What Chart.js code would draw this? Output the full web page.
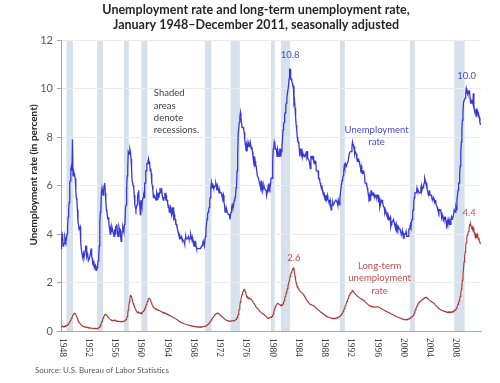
<!DOCTYPE html>
<html>
<head>
<meta charset="utf-8">
<script src="https://cdn.jsdelivr.net/npm/chart.js@4.4.1/dist/chart.umd.min.js"></script>
<style>
html,body{margin:0;padding:0;background:#fff;}
#wrap{width:500px;height:383px;position:relative;}
</style>
</head>
<body>
<div id="wrap"><canvas id="c" width="500" height="383"></canvas></div>
<script>
// ---- data ----
const startYear = 1948;
const chartTitle = ['Unemployment rate and long-term unemployment rate,', 'January 1948\u2013December 2011, seasonally adjusted'];
const yAxisTitle = 'Unemployment rate (in percent)';
const sourceNote = 'Source: U.S. Bureau of Labor Statistics';
const xTickLabels = ['1948','1952','1956','1960','1964','1968','1972','1976','1980','1984','1988','1992','1996','2000','2004','2008'];
const yTickValues = [0, 2, 4, 6, 8, 10, 12];
const recessionStarts = [1948.833, 1953.5, 1957.583, 1960.25, 1969.917, 1973.833, 1980.0, 1981.5, 1990.5, 2001.167, 2007.917];
const recessionEnds   = [1949.833, 1954.417, 1958.333, 1961.167, 1970.917, 1975.25, 1980.583, 1982.917, 1991.25, 2001.917, 2009.5];

// monthly, Jan 1948 - Dec 2011
const unemploymentRate = [
3.4,3.8,4.0,3.9,3.5,3.6,3.6,3.9,3.8,3.7,3.8,4.0,
4.3,4.7,5.0,5.3,6.1,6.2,6.7,6.8,6.6,7.9,6.4,6.6,
6.5,6.4,6.3,5.8,5.5,5.4,5.0,4.5,4.4,4.2,4.2,4.3,
3.7,3.4,3.4,3.1,3.0,3.2,3.1,3.1,3.3,3.5,3.5,3.1,
3.2,3.1,2.9,2.9,3.0,3.0,3.2,3.4,3.1,3.0,2.8,2.7,
2.9,2.6,2.6,2.7,2.5,2.5,2.6,2.7,2.9,3.1,3.5,4.5,
4.9,5.2,5.7,5.9,5.9,5.6,5.8,6.0,6.1,5.7,5.3,5.0,
4.9,4.7,4.6,4.7,4.3,4.2,4.0,4.2,4.1,4.3,4.2,4.2,
4.0,3.9,4.2,4.0,4.3,4.3,4.4,4.1,3.9,3.9,4.3,4.2,
4.2,3.9,3.7,3.9,4.1,4.3,4.2,4.1,4.4,4.5,5.1,5.2,
5.8,6.4,6.7,7.4,7.4,7.3,7.5,7.4,7.1,6.7,6.2,6.2,
6.0,5.9,5.6,5.2,5.1,5.0,5.1,5.2,5.5,5.7,5.8,5.3,
5.2,4.8,5.4,5.2,5.1,5.4,5.5,5.6,5.5,6.1,6.1,6.6,
6.6,6.9,6.9,7.0,7.1,6.9,7.0,6.6,6.7,6.5,6.1,6.0,
5.8,5.5,5.6,5.6,5.5,5.5,5.4,5.7,5.6,5.4,5.7,5.5,
5.7,5.9,5.7,5.7,5.9,5.6,5.6,5.4,5.5,5.5,5.7,5.5,
5.6,5.4,5.4,5.3,5.1,5.2,4.9,5.0,5.1,5.1,4.8,5.0,
4.9,5.1,4.7,4.8,4.6,4.6,4.4,4.4,4.3,4.2,4.1,4.0,
4.0,3.8,3.8,3.8,3.9,3.8,3.8,3.8,3.7,3.7,3.6,3.8,
3.9,3.8,3.8,3.8,3.8,3.9,3.8,3.8,3.8,4.0,3.9,3.8,
3.7,3.8,3.7,3.5,3.5,3.7,3.7,3.5,3.4,3.4,3.4,3.4,
3.4,3.4,3.4,3.4,3.4,3.5,3.5,3.5,3.7,3.7,3.5,3.5,
3.9,4.2,4.4,4.6,4.8,4.9,5.0,5.1,5.4,5.5,5.9,6.1,
5.9,5.9,6.0,5.9,5.9,5.9,6.0,6.1,6.0,5.8,6.0,6.0,
5.8,5.7,5.8,5.7,5.7,5.7,5.6,5.6,5.5,5.6,5.3,5.2,
4.9,5.0,4.9,5.0,4.9,4.9,4.8,4.8,4.8,4.6,4.8,4.9,
5.1,5.2,5.1,5.1,5.1,5.4,5.5,5.5,5.9,6.0,6.6,7.2,
8.1,8.1,8.6,8.8,9.0,8.8,8.6,8.4,8.4,8.4,8.3,8.2,
7.9,7.7,7.6,7.7,7.4,7.6,7.8,7.8,7.6,7.7,7.8,7.8,
7.5,7.6,7.4,7.2,7.0,7.2,6.9,7.0,6.8,6.8,6.8,6.4,
6.4,6.3,6.3,6.1,6.0,5.9,6.2,5.9,6.0,5.8,5.9,6.0,
5.9,5.9,5.8,5.8,5.6,5.7,5.7,6.0,5.9,6.0,5.9,6.0,
6.3,6.3,6.3,6.9,7.5,7.6,7.8,7.7,7.5,7.5,7.5,7.2,
7.5,7.4,7.4,7.2,7.5,7.5,7.2,7.4,7.6,7.9,8.3,8.5,
8.6,8.9,9.0,9.3,9.4,9.6,9.8,9.8,10.1,10.4,10.8,10.8,
10.4,10.4,10.3,10.2,10.1,10.1,9.4,9.5,9.2,8.8,8.5,8.3,
8.0,7.8,7.8,7.7,7.4,7.2,7.5,7.5,7.3,7.4,7.2,7.3,
7.3,7.2,7.2,7.3,7.2,7.4,7.4,7.1,7.1,7.1,7.0,7.0,
6.7,7.2,7.2,7.1,7.2,7.2,7.0,6.9,7.0,7.0,6.9,6.6,
6.6,6.6,6.6,6.3,6.3,6.2,6.1,6.0,5.9,6.0,5.8,5.7,
5.7,5.7,5.7,5.4,5.6,5.4,5.4,5.6,5.4,5.4,5.3,5.3,
5.4,5.2,5.0,5.2,5.2,5.3,5.2,5.2,5.3,5.3,5.4,5.4,
5.4,5.3,5.2,5.4,5.4,5.2,5.5,5.7,5.9,5.9,6.2,6.3,
6.4,6.6,6.8,6.7,6.9,6.9,6.8,6.9,6.9,7.0,7.0,7.3,
7.3,7.4,7.4,7.4,7.6,7.8,7.7,7.6,7.6,7.3,7.4,7.4,
7.3,7.1,7.0,7.1,7.1,7.0,6.9,6.8,6.7,6.8,6.6,6.5,
6.6,6.6,6.5,6.4,6.1,6.1,6.1,6.0,5.9,5.8,5.6,5.5,
5.6,5.4,5.4,5.8,5.6,5.6,5.7,5.7,5.6,5.5,5.6,5.6,
5.6,5.5,5.5,5.6,5.6,5.3,5.5,5.1,5.2,5.2,5.4,5.4,
5.3,5.2,5.2,5.1,4.9,5.0,4.9,4.8,4.9,4.7,4.6,4.7,
4.6,4.6,4.7,4.3,4.4,4.5,4.5,4.5,4.6,4.5,4.4,4.4,
4.3,4.4,4.2,4.3,4.2,4.3,4.3,4.2,4.2,4.1,4.1,4.0,
4.0,4.1,4.0,3.8,4.0,4.0,4.0,4.1,3.9,3.9,3.9,3.9,
4.2,4.2,4.3,4.4,4.3,4.5,4.6,4.9,5.0,5.3,5.5,5.7,
5.7,5.7,5.7,5.9,5.8,5.8,5.8,5.7,5.7,5.7,5.9,6.0,
5.8,5.9,5.9,6.0,6.1,6.3,6.2,6.1,6.1,6.0,5.8,5.7,
5.7,5.6,5.8,5.6,5.6,5.6,5.5,5.4,5.4,5.5,5.4,5.4,
5.3,5.4,5.2,5.2,5.1,5.0,5.0,4.9,5.0,5.0,5.0,4.9,
4.7,4.8,4.7,4.7,4.6,4.6,4.7,4.7,4.5,4.4,4.5,4.4,
4.6,4.5,4.4,4.5,4.4,4.6,4.7,4.6,4.7,4.7,4.7,5.0,
5.0,4.9,5.1,5.0,5.4,5.6,5.8,6.1,6.1,6.5,6.8,7.3,
7.8,8.3,8.7,9.0,9.4,9.5,9.5,9.6,9.8,10.0,9.9,9.9,
9.8,9.8,9.9,9.9,9.6,9.4,9.4,9.5,9.5,9.4,9.8,9.3,
9.1,9.0,9.0,9.1,9.0,9.1,9.0,9.0,9.0,8.8,8.6,8.5
];

const longTermRate = [
0.18,0.17,0.19,0.20,0.18,0.17,0.18,0.20,0.21,0.20,0.22,0.23,
0.25,0.28,0.31,0.34,0.38,0.42,0.47,0.52,0.55,0.60,0.66,0.70,
0.72,0.73,0.71,0.68,0.62,0.58,0.52,0.45,0.40,0.36,0.33,0.30,
0.28,0.25,0.23,0.22,0.20,0.19,0.18,0.17,0.17,0.16,0.16,0.15,
0.15,0.14,0.14,0.13,0.13,0.12,0.13,0.12,0.12,0.11,0.11,0.10,
0.10,0.11,0.10,0.10,0.11,0.10,0.10,0.11,0.12,0.13,0.15,0.18,
0.22,0.27,0.33,0.40,0.46,0.52,0.58,0.63,0.67,0.69,0.68,0.66,
0.64,0.60,0.57,0.55,0.52,0.50,0.48,0.46,0.45,0.44,0.44,0.43,
0.42,0.43,0.44,0.42,0.43,0.41,0.40,0.41,0.40,0.39,0.40,0.39,
0.38,0.39,0.38,0.39,0.38,0.40,0.39,0.40,0.41,0.42,0.44,0.47,
0.52,0.60,0.72,0.87,1.03,1.20,1.35,1.47,1.45,1.38,1.30,1.22,
1.15,1.08,1.02,0.96,0.90,0.86,0.82,0.79,0.76,0.75,0.78,0.76,
0.74,0.72,0.75,0.76,0.74,0.78,0.80,0.82,0.86,0.90,0.96,1.02,
1.08,1.15,1.22,1.28,1.33,1.35,1.34,1.30,1.24,1.18,1.12,1.06,
1.02,0.98,0.96,0.94,0.92,0.90,0.88,0.90,0.87,0.86,0.85,0.86,
0.84,0.83,0.82,0.80,0.79,0.78,0.76,0.77,0.75,0.76,0.74,0.73,
0.72,0.70,0.71,0.69,0.68,0.66,0.65,0.64,0.63,0.62,0.60,0.59,
0.58,0.56,0.55,0.54,0.53,0.51,0.50,0.48,0.47,0.45,0.44,0.42,
0.40,0.39,0.38,0.36,0.35,0.34,0.33,0.32,0.31,0.30,0.30,0.29,
0.28,0.27,0.27,0.26,0.25,0.25,0.24,0.23,0.23,0.22,0.22,0.21,
0.21,0.20,0.20,0.19,0.19,0.18,0.18,0.18,0.17,0.17,0.17,0.16,
0.16,0.17,0.16,0.16,0.17,0.16,0.17,0.17,0.18,0.18,0.19,0.19,
0.20,0.21,0.22,0.24,0.26,0.28,0.31,0.33,0.36,0.39,0.42,0.46,
0.50,0.54,0.57,0.60,0.63,0.66,0.68,0.70,0.72,0.73,0.74,0.73,
0.72,0.70,0.68,0.66,0.64,0.62,0.60,0.58,0.56,0.54,0.52,0.50,
0.48,0.46,0.45,0.44,0.43,0.42,0.42,0.41,0.40,0.41,0.40,0.41,
0.42,0.41,0.42,0.43,0.42,0.43,0.44,0.45,0.48,0.50,0.55,0.60,
0.68,0.78,0.90,1.05,1.20,1.32,1.42,1.50,1.57,1.63,1.68,1.72,
1.70,1.62,1.55,1.45,1.40,1.42,1.38,1.35,1.36,1.34,1.33,1.32,
1.30,1.27,1.24,1.20,1.16,1.13,1.10,1.06,1.02,0.98,0.95,0.93,
0.91,0.88,0.86,0.83,0.80,0.78,0.76,0.74,0.72,0.71,0.70,0.68,
0.66,0.64,0.62,0.60,0.57,0.55,0.53,0.52,0.53,0.55,0.56,0.58,
0.58,0.57,0.60,0.64,0.70,0.78,0.86,0.94,1.00,1.05,1.08,1.12,
1.14,1.13,1.12,1.10,1.08,1.07,1.06,1.08,1.06,1.08,1.12,1.18,
1.25,1.33,1.42,1.50,1.58,1.66,1.75,1.85,1.95,2.05,2.15,2.25,
2.33,2.40,2.46,2.52,2.57,2.60,2.56,2.40,2.25,2.10,1.98,1.90,
1.85,1.80,1.75,1.72,1.68,1.65,1.62,1.60,1.58,1.56,1.54,1.52,
1.48,1.44,1.40,1.36,1.32,1.28,1.25,1.22,1.19,1.16,1.13,1.11,
1.10,1.09,1.08,1.07,1.06,1.05,1.04,1.02,1.00,0.98,0.96,0.94,
0.92,0.90,0.88,0.86,0.84,0.82,0.80,0.78,0.77,0.75,0.74,0.72,
0.70,0.68,0.66,0.65,0.63,0.62,0.60,0.59,0.58,0.57,0.56,0.55,
0.55,0.54,0.53,0.52,0.53,0.52,0.51,0.52,0.53,0.52,0.53,0.54,
0.55,0.56,0.55,0.57,0.58,0.60,0.62,0.64,0.66,0.68,0.72,0.76,
0.80,0.86,0.92,0.98,1.04,1.10,1.16,1.22,1.28,1.34,1.40,1.46,
1.50,1.55,1.58,1.60,1.64,1.67,1.65,1.62,1.58,1.55,1.52,1.50,
1.48,1.46,1.44,1.42,1.40,1.38,1.37,1.35,1.34,1.33,1.31,1.30,
1.28,1.27,1.25,1.23,1.20,1.18,1.16,1.14,1.12,1.10,1.08,1.06,
1.05,1.04,1.02,1.00,1.01,0.99,1.00,0.98,0.99,1.00,0.99,0.98,
0.99,1.00,1.01,1.00,0.99,0.98,0.97,0.96,0.95,0.94,0.92,0.91,
0.90,0.88,0.87,0.86,0.84,0.83,0.82,0.80,0.79,0.78,0.77,0.76,
0.75,0.74,0.73,0.72,0.70,0.69,0.68,0.67,0.66,0.65,0.63,0.62,
0.61,0.60,0.59,0.58,0.57,0.56,0.55,0.54,0.54,0.53,0.52,0.51,
0.50,0.49,0.48,0.48,0.47,0.47,0.46,0.48,0.47,0.48,0.47,0.49,
0.50,0.51,0.52,0.54,0.55,0.57,0.59,0.61,0.64,0.68,0.73,0.80,
0.86,0.92,0.98,1.03,1.08,1.12,1.16,1.18,1.21,1.23,1.25,1.27,
1.28,1.30,1.31,1.33,1.35,1.37,1.39,1.38,1.36,1.37,1.35,1.33,
1.30,1.28,1.27,1.25,1.23,1.22,1.20,1.19,1.17,1.16,1.14,1.12,
1.08,1.06,1.04,1.02,1.00,0.97,0.95,0.93,0.91,0.90,0.88,0.87,
0.86,0.85,0.84,0.83,0.82,0.81,0.80,0.80,0.79,0.78,0.78,0.77,
0.77,0.78,0.76,0.79,0.78,0.77,0.79,0.78,0.80,0.82,0.81,0.84,
0.86,0.87,0.90,0.93,0.98,1.04,1.10,1.16,1.24,1.32,1.42,1.56,
1.72,1.90,2.10,2.32,2.55,2.85,3.05,3.25,3.50,3.65,3.85,3.95,
4.05,4.10,4.15,4.38,4.35,4.40,4.30,4.26,4.30,4.20,4.25,4.15,
4.05,3.95,3.98,3.85,3.95,4.00,3.90,3.80,3.85,3.70,3.65,3.58
];

// ---- chart ----
const toPoints = arr => arr.map((v, i) => ({ x: startYear + i / 12, y: v }));

const notes = [
  { lines: ['10.8'], x: 1982.9, y: 11.4, color: '#4a4ad0', align: 'center' },
  { lines: ['10.0'], x: 2009.8, y: 10.5, color: '#4a4ad0', align: 'center' },
  { lines: ['Unemployment', 'rate'], x: 1996.1, y: 8.29, color: '#4a4ad0', align: 'center' },
  { lines: ['2.6'], x: 1983.5, y: 3.0, color: '#c0504d', align: 'center' },
  { lines: ['4.4'], x: 2010.2, y: 4.85, color: '#c0504d', align: 'center' },
  { lines: ['Long-term', 'unemployment', 'rate'], x: 1996.55, y: 2.68, color: '#c0504d', align: 'center' },
  { lines: ['Shaded', 'areas', 'denote', 'recessions.'], x: 1962.15, y: 9.81, color: '#404040', align: 'left' }
];

const decor = {
  id: 'decor',
  beforeDraw(chart) {
    const { ctx, chartArea: a, scales: { x } } = chart;
    ctx.save();
    ctx.fillStyle = '#d7e1ec';
    recessionStarts.forEach((s, i) => {
      const x0 = x.getPixelForValue(s), x1 = x.getPixelForValue(recessionEnds[i]);
      ctx.fillRect(x0, a.top, x1 - x0, a.bottom - a.top);
    });
    ctx.restore();
  },
  afterDraw(chart) {
    const { ctx, chartArea: a, scales: { x, y } } = chart;
    ctx.save();
    // title
    ctx.fillStyle = '#262626';
    ctx.font = 'bold 12.5px Lato';
    ctx.textAlign = 'center';
    ctx.textBaseline = 'middle';
    ctx.fillText(chartTitle[0], 256, 10);
    ctx.fillText(chartTitle[1], 256, 25);
    // y axis title
    ctx.save();
    ctx.translate(34, 175);
    ctx.rotate(-Math.PI / 2);
    ctx.font = 'bold 10px Lato';
    ctx.fillStyle = '#262626';
    ctx.fillText(yAxisTitle, 0, 0);
    ctx.restore();
    // x tick labels (rotated clockwise)
    ctx.font = '9.5px "Liberation Serif"';
    ctx.fillStyle = '#404040';
    xTickLabels.forEach(l => {
      const px = x.getPixelForValue(Number(l));
      ctx.save();
      ctx.translate(px + 1, a.bottom + 7);
      ctx.rotate(Math.PI / 2);
      ctx.textAlign = 'left';
      ctx.textBaseline = 'middle';
      ctx.fillText(l, 0, 0);
      ctx.restore();
    });
    // source
    ctx.font = '8px Lato';
    ctx.fillStyle = '#595959';
    ctx.textAlign = 'left';
    ctx.textBaseline = 'middle';
    ctx.fillText(sourceNote, 35, 370);
    // notes
    ctx.font = '9.5px Lato';
    notes.forEach(n => {
      const px = x.getPixelForValue(n.x), py = y.getPixelForValue(n.y);
      ctx.fillStyle = n.color;
      ctx.textAlign = n.align;
      n.lines.forEach((t, k) => ctx.fillText(t, px, py + k * 12.4));
    });
    ctx.restore();
  }
};

new Chart(document.getElementById('c'), {
  type: 'line',
  data: {
    datasets: [
      { label: 'Unemployment rate', data: toPoints(unemploymentRate), borderColor: '#3838d6', borderWidth: 1.3, pointRadius: 0, tension: 0, fill: false },
      { label: 'Long-term unemployment rate', data: toPoints(longTermRate), borderColor: '#a83636', borderWidth: 1.1, pointRadius: 0, tension: 0, fill: false }
    ]
  },
  options: {
    responsive: false,
    animation: false,
    layout: { padding: { top: 40, right: 19, left: 0, bottom: 0 } },
    plugins: { legend: { display: false }, tooltip: { enabled: false }, title: { display: false } },
    scales: {
      x: {
        type: 'linear', min: 1948, max: 2012,
        grid: { display: false },
        border: { display: true, color: '#a6a6a6', width: 1 },
        ticks: { display: false },
        afterFit(s) { s.height = 52; }
      },
      y: {
        min: 0, max: 12,
        afterBuildTicks(s) { s.ticks = yTickValues.map(v => ({ value: v })); },
        ticks: { color: '#595959', font: { family: 'Lato', size: 11 }, padding: 4 },
        grid: { color: '#ececec', tickColor: '#a6a6a6', tickLength: 4, drawTicks: true },
        border: { display: true, color: '#a6a6a6', width: 1 },
        afterFit(s) { s.width = 61; }
      }
    }
  },
  plugins: [decor]
});
</script>
</body>
</html>
